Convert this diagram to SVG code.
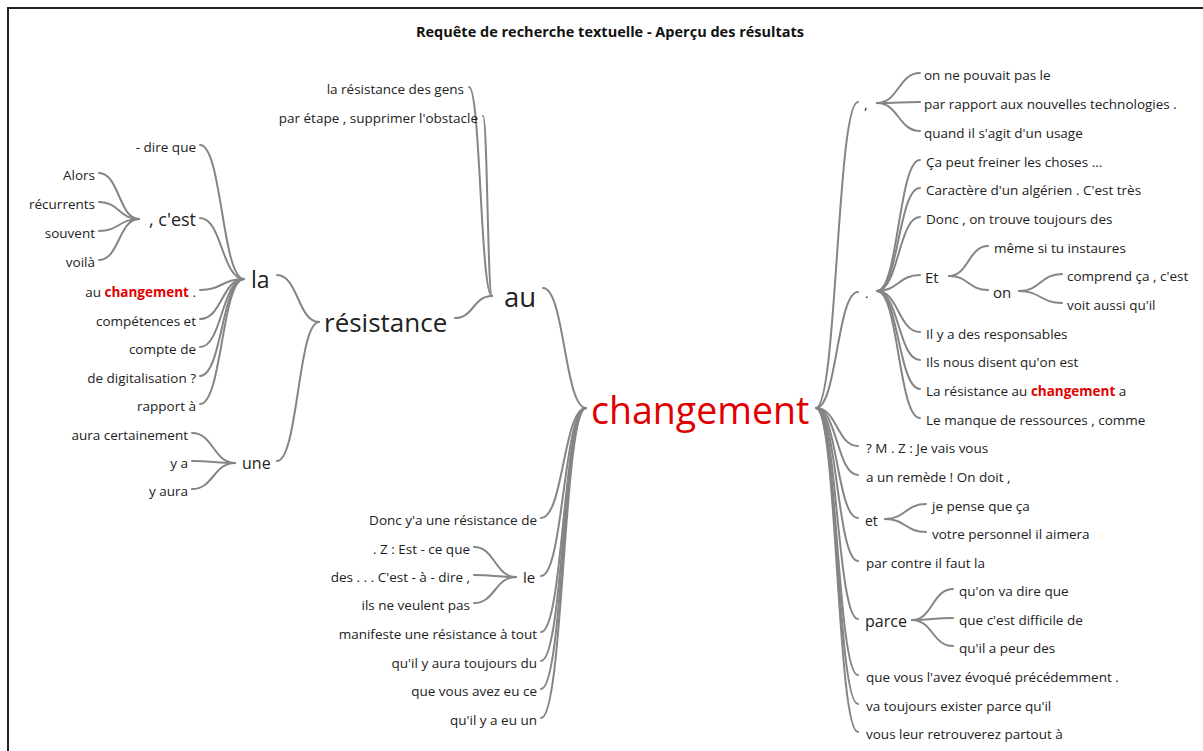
<svg xmlns="http://www.w3.org/2000/svg" width="1203" height="751" viewBox="0 0 1203 751">
  <style>
    text { font-family: "Open Sans", "Noto Sans", "DejaVu Sans", sans-serif; fill: #222; dominant-baseline: central; }
    .s { font-size: 13.5px; }
    .m { font-size: 16px; }
    .e { text-anchor: end; }
    .hl { fill: #e00000; font-weight: bold; }
    .title { font-size: 14.5px; font-weight: bold; text-anchor: middle; fill: #111; }
    .links path { fill: none; stroke: #858585; stroke-width: 2; stroke-linecap: round; }
  </style>
  <rect x="0" y="0" width="1203" height="751" fill="#fff"/>
  <path d="M8 751 V8 H1203" fill="none" stroke="#222" stroke-width="2"/>
  <text class="title" x="610" y="31">Requête de recherche textuelle - Aperçu des résultats</text>

  <g class="links">
    <!-- into "au" -->
    <path d="M469 87 C480.5 87 480.5 296 492 296"/>
    <path d="M483 116 C487.5 116 487.5 296 492 296"/>
    <path d="M455 318 C473.5 318 473.5 296 492 296"/>
    <!-- au to changement -->
    <path d="M543 288 C564.5 288 564.5 408 586 408"/>
    <!-- into "la" -->
    <path d="M200 145 C222 145 222 279 244 279"/>
    <path d="M200 218 C222 218 222 279 244 279"/>
    <path d="M200 290 C222 290 222 279 244 279"/>
    <path d="M200 319 C222 319 222 279 244 279"/>
    <path d="M200 347 C222 347 222 279 244 279"/>
    <path d="M200 376 C222 376 222 279 244 279"/>
    <path d="M200 404 C222 404 222 279 244 279"/>
    <!-- into ", c'est" -->
    <path d="M99 173 C119 173 119 219 139 219"/>
    <path d="M99 202 C119 202 119 219 139 219"/>
    <path d="M99 231 C119 231 119 219 139 219"/>
    <path d="M99 260 C119 260 119 219 139 219"/>
    <!-- into "une" -->
    <path d="M192 433 C213.5 433 213.5 463 235 463"/>
    <path d="M192 461 C213.5 461 213.5 463 235 463"/>
    <path d="M192 489 C213.5 489 213.5 463 235 463"/>
    <!-- la / une to résistance -->
    <path d="M277 275 C298 275 298 322 319 322"/>
    <path d="M277 461 C298 461 298 322 319 322"/>
    <!-- lower left into changement -->
    <path d="M541 518 C563.5 518 563.5 408 586 408"/>
    <path d="M541 576 C563.5 576 563.5 408 586 408"/>
    <path d="M541 632 C563.5 632 563.5 408 586 408"/>
    <path d="M541 661 C563.5 661 563.5 408 586 408"/>
    <path d="M541 689 C563.5 689 563.5 408 586 408"/>
    <path d="M541 718 C563.5 718 563.5 408 586 408"/>
    <!-- into "le" -->
    <path d="M474 547 C495 547 495 577 516 577"/>
    <path d="M474 575 C495 575 495 577 516 577"/>
    <path d="M474 603 C495 603 495 577 516 577"/>
    <!-- changement to right branches -->
    <path d="M816 408 C837 408 837 102 858 102"/>
    <path d="M816 408 C837 408 837 292 858 292"/>
    <path d="M816 408 C837 408 837 446 858 446"/>
    <path d="M816 408 C837 408 837 475 858 475"/>
    <path d="M816 408 C837 408 837 518 858 518"/>
    <path d="M816 408 C837 408 837 561 858 561"/>
    <path d="M816 408 C837 408 837 619 858 619"/>
    <path d="M816 408 C837 408 837 675 858 675"/>
    <path d="M816 408 C837 408 837 704 858 704"/>
    <path d="M816 408 C837 408 837 732 858 732"/>
    <!-- "," -->
    <path d="M877 103 C898.5 103 898.5 73 920 73"/>
    <path d="M877 103 C898.5 103 898.5 102 920 102"/>
    <path d="M877 103 C898.5 103 898.5 131 920 131"/>
    <!-- "." -->
    <path d="M877 291 C898.5 291 898.5 160 920 160"/>
    <path d="M877 291 C898.5 291 898.5 188 920 188"/>
    <path d="M877 291 C898.5 291 898.5 217 920 217"/>
    <path d="M877 291 C898.5 291 898.5 275 920 275"/>
    <path d="M877 291 C898.5 291 898.5 332 920 332"/>
    <path d="M877 291 C898.5 291 898.5 360 920 360"/>
    <path d="M877 291 C898.5 291 898.5 389 920 389"/>
    <path d="M877 291 C898.5 291 898.5 418 920 418"/>
    <!-- "Et" -->
    <path d="M949 276 C968.5 276 968.5 246 988 246"/>
    <path d="M949 276 C968.5 276 968.5 290 988 290"/>
    <!-- "on" -->
    <path d="M1019 291 C1040.5 291 1040.5 274 1062 274"/>
    <path d="M1019 291 C1040.5 291 1040.5 303 1062 303"/>
    <!-- "et" -->
    <path d="M885 519 C905.5 519 905.5 504 926 504"/>
    <path d="M885 519 C905.5 519 905.5 532 926 532"/>
    <!-- "parce" -->
    <path d="M912 620 C932.5 620 932.5 589 953 589"/>
    <path d="M912 620 C932.5 620 932.5 618 953 618"/>
    <path d="M912 620 C932.5 620 932.5 646 953 646"/>
  </g>

  <g id="n-changement"><text x="591" y="409" style="font-size:37.5px;fill:#e00000">changement</text></g>
  <g id="n-au"><text x="504" y="296" style="font-size:27.5px">au</text></g>
  <g id="n-resistance"><text x="324" y="322" style="font-size:26px">résistance</text></g>
  <g id="n-la"><text x="251" y="279" style="font-size:23px">la</text></g>
  <g id="n-une"><text x="242" y="463" class="m">une</text></g>
  <g id="n-cest"><text x="196" y="219" style="font-size:18px" class="e">, c'est</text></g>
  <g id="n-le"><text x="523" y="577" style="font-size:15px">le</text></g>

  <g id="n-au-leaves">
    <text class="s e" x="464" y="89">la résistance des gens</text>
    <text class="s e" x="478" y="118">par étape , supprimer l'obstacle</text>
  </g>
  <g id="n-la-leaves">
    <text class="s e" x="196" y="147">- dire que</text>
    <text class="s e" x="196" y="292">au <tspan class="hl">changement</tspan> .</text>
    <text class="s e" x="196" y="321">compétences et</text>
    <text class="s e" x="196" y="349">compte de</text>
    <text class="s e" x="196" y="378">de digitalisation ?</text>
    <text class="s e" x="196" y="406">rapport à</text>
  </g>
  <g id="n-cest-leaves">
    <text class="s e" x="95" y="175">Alors</text>
    <text class="s e" x="95" y="204">récurrents</text>
    <text class="s e" x="95" y="233">souvent</text>
    <text class="s e" x="95" y="262">voilà</text>
  </g>
  <g id="n-une-leaves">
    <text class="s e" x="188" y="435">aura certainement</text>
    <text class="s e" x="188" y="463">y a</text>
    <text class="s e" x="188" y="491">y aura</text>
  </g>
  <g id="n-bottom-left">
    <text class="s e" x="537" y="520">Donc y'a une résistance de</text>
    <text class="s e" x="537" y="634">manifeste une résistance à tout</text>
    <text class="s e" x="537" y="663">qu'il y aura toujours du</text>
    <text class="s e" x="537" y="691">que vous avez eu ce</text>
    <text class="s e" x="537" y="720">qu'il y a eu un</text>
  </g>
  <g id="n-le-leaves">
    <text class="s e" x="470" y="549">. Z : Est - ce que</text>
    <text class="s e" x="470" y="577">des . . . C'est - à - dire ,</text>
    <text class="s e" x="470" y="605">ils ne veulent pas</text>
  </g>

  <g id="n-comma">
    <text class="s" x="864" y="104">,</text>
    <text class="s" x="924" y="75">on ne pouvait pas le</text>
    <text class="s" x="924" y="104">par rapport aux nouvelles technologies .</text>
    <text class="s" x="924" y="133">quand il s'agit d'un usage</text>
  </g>
  <g id="n-dot">
    <text class="s" x="865" y="293">.</text>
    <text class="s" x="926" y="162">Ça peut freiner les choses ...</text>
    <text class="s" x="926" y="190">Caractère d'un algérien . C'est très</text>
    <text class="s" x="926" y="219">Donc , on trouve toujours des</text>
    <text class="s" x="926" y="334">Il y a des responsables</text>
    <text class="s" x="926" y="362">Ils nous disent qu'on est</text>
    <text class="s" x="926" y="391">La résistance au <tspan class="hl">changement</tspan> a</text>
    <text class="s" x="926" y="420">Le manque de ressources , comme</text>
  </g>
  <g id="n-Et">
    <text x="925" y="277" style="font-size:15px">Et</text>
    <text class="s" x="994" y="248">même si tu instaures</text>
  </g>
  <g id="n-on">
    <text x="993" y="292" style="font-size:15px">on</text>
    <text class="s" x="1067" y="276">comprend ça , c'est</text>
    <text class="s" x="1067" y="305">voit aussi qu'il</text>
  </g>
  <g id="n-right-leaves">
    <text class="s" x="866" y="448">? M . Z : Je vais vous</text>
    <text class="s" x="866" y="477">a un remède ! On doit ,</text>
    <text class="s" x="866" y="563">par contre il faut la</text>
    <text class="s" x="866" y="677">que vous l'avez évoqué précédemment .</text>
    <text class="s" x="866" y="706">va toujours exister parce qu'il</text>
    <text class="s" x="866" y="734">vous leur retrouverez partout à</text>
  </g>
  <g id="n-et">
    <text x="865" y="520" style="font-size:14px">et</text>
    <text class="s" x="932" y="506">je pense que ça</text>
    <text class="s" x="932" y="534">votre personnel il aimera</text>
  </g>
  <g id="n-parce">
    <text x="865" y="621" class="m">parce</text>
    <text class="s" x="959" y="591">qu'on va dire que</text>
    <text class="s" x="959" y="620">que c'est difficile de</text>
    <text class="s" x="959" y="648">qu'il a peur des</text>
  </g>
</svg>
